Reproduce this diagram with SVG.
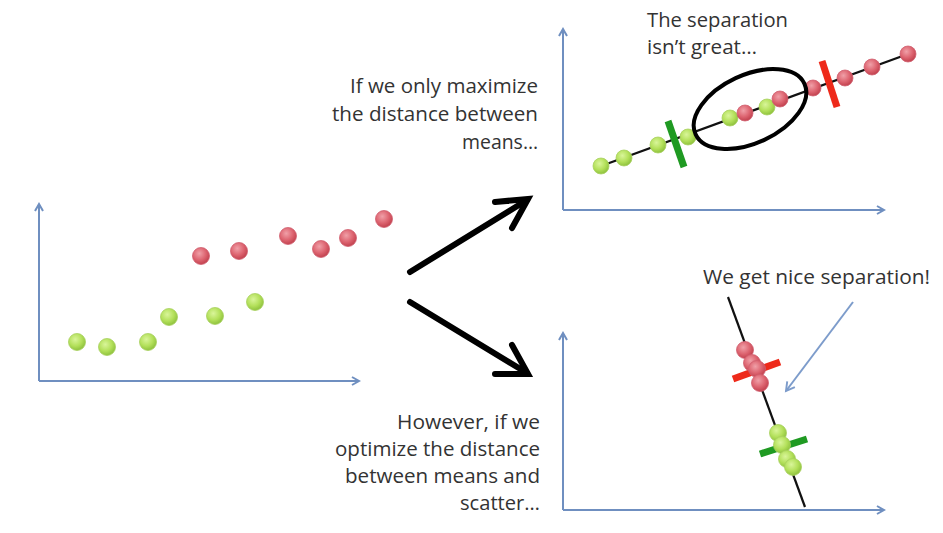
<svg xmlns="http://www.w3.org/2000/svg" width="943" height="533" viewBox="0 0 943 533">
<defs>
<radialGradient id="gG" cx="40%" cy="35%" r="65%">
<stop offset="0" stop-color="#d9f59a"/>
<stop offset="0.6" stop-color="#b3e05a"/>
<stop offset="1" stop-color="#8fc23e"/>
</radialGradient>
<radialGradient id="gR" cx="40%" cy="35%" r="65%">
<stop offset="0" stop-color="#f0a0a8"/>
<stop offset="0.6" stop-color="#dd6470"/>
<stop offset="1" stop-color="#c2424f"/>
</radialGradient>
<marker id="ax" viewBox="0 0 10 10" refX="8" refY="5" markerWidth="5" markerHeight="5" orient="auto" markerUnits="strokeWidth">
<path d="M1,1 L8,5 L1,9" fill="none" stroke="#6f8fc0" stroke-width="2"/>
</marker>
<marker id="bl" viewBox="0 0 10 10" refX="8" refY="5" markerWidth="6" markerHeight="6" orient="auto" markerUnits="strokeWidth">
<path d="M1,1 L8,5 L1,9" fill="none" stroke="#7d9ccb" stroke-width="1.6"/>
</marker>
</defs>
<style>
.axis{stroke:#6f8fc0;stroke-width:2;fill:none;marker-end:url(#ax)}
.g{fill:url(#gG);stroke:#a8d060;stroke-width:0.8}
.r{fill:url(#gR);stroke:#d06070;stroke-width:0.8}
.proj{stroke:#111;stroke-width:2.2;fill:none}
.txt{font-family:"Open Sans","Liberation Sans",sans-serif;font-size:20px;fill:#333333}
.big{stroke:#000;stroke-width:6;fill:none;stroke-linecap:round;stroke-linejoin:miter}
</style>
<rect width="943" height="533" fill="#ffffff"/>

<g id="plot-left">
<path class="axis" d="M39,381 L39,204"/>
<path class="axis" d="M39,381 L359,381"/>
<circle class="g" cx="77" cy="342" r="8.5"/>
<circle class="g" cx="107" cy="347" r="8.5"/>
<circle class="g" cx="148" cy="342" r="8.5"/>
<circle class="g" cx="169" cy="317" r="8.5"/>
<circle class="g" cx="215" cy="316" r="8.5"/>
<circle class="g" cx="255" cy="302" r="8.5"/>
<circle class="r" cx="201" cy="256" r="8.5"/>
<circle class="r" cx="239" cy="251" r="8.5"/>
<circle class="r" cx="288" cy="236" r="8.5"/>
<circle class="r" cx="321" cy="249" r="8.5"/>
<circle class="r" cx="348" cy="238" r="8.5"/>
<circle class="r" cx="384" cy="219" r="8.5"/>
</g>

<g id="plot-top">
<path class="axis" d="M563,210 L563,29"/>
<path class="axis" d="M563,210 L884,210"/>
<line class="proj" x1="601" y1="166" x2="908" y2="54"/>
<line x1="668" y1="121" x2="684" y2="167" stroke="#1f9a22" stroke-width="7"/>
<line x1="822" y1="61" x2="837" y2="107" stroke="#ee2a1a" stroke-width="7"/>
<circle class="g" cx="601" cy="166" r="8"/>
<circle class="g" cx="624" cy="158" r="8"/>
<circle class="g" cx="658" cy="145" r="8"/>
<circle class="g" cx="688" cy="137" r="8"/>
<circle class="g" cx="730" cy="118" r="8"/>
<circle class="r" cx="745" cy="113" r="8"/>
<circle class="g" cx="767" cy="107" r="8"/>
<circle class="r" cx="780" cy="99" r="8"/>
<circle class="r" cx="813" cy="88" r="8"/>
<circle class="r" cx="845" cy="78" r="8"/>
<circle class="r" cx="872" cy="67" r="8"/>
<circle class="r" cx="908" cy="54" r="8"/>
<ellipse cx="750" cy="109" rx="60" ry="34" transform="rotate(-25 750 109)" fill="none" stroke="#000" stroke-width="4"/>
</g>

<g id="plot-bottom">
<path class="axis" d="M563,510 L563,333"/>
<path class="axis" d="M563,510 L884,510"/>
<line class="proj" x1="728" y1="297" x2="805" y2="507"/>
<line x1="733" y1="379" x2="780" y2="362" stroke="#ee2a1a" stroke-width="7"/>
<line x1="760" y1="454" x2="807" y2="439" stroke="#1f9a22" stroke-width="7"/>
<circle class="r" cx="745" cy="350" r="8.5"/>
<circle class="r" cx="752" cy="363" r="8.5"/>
<circle class="r" cx="757" cy="369" r="8.5"/>
<circle class="r" cx="760" cy="383" r="8.5"/>
<circle class="g" cx="778" cy="433" r="8.5"/>
<circle class="g" cx="782" cy="445" r="8.5"/>
<circle class="g" cx="787" cy="459" r="8.5"/>
<circle class="g" cx="793" cy="467" r="8.5"/>
</g>

<g id="label-top-note">
<text class="txt" x="647" y="27" textLength="141" lengthAdjust="spacingAndGlyphs">The separation</text>
<text class="txt" x="647" y="54" textLength="110" lengthAdjust="spacingAndGlyphs">isn’t great…</text>
</g>

<g id="label-nice">
<text class="txt" x="703" y="284" textLength="227" lengthAdjust="spacingAndGlyphs">We get nice separation!</text>
</g>

<g id="label-means">
<text class="txt" x="538" y="93" text-anchor="end" textLength="188" lengthAdjust="spacingAndGlyphs">If we only maximize</text>
<text class="txt" x="538" y="121" text-anchor="end" textLength="206" lengthAdjust="spacingAndGlyphs">the distance between</text>
<text class="txt" x="538" y="149" text-anchor="end" textLength="76" lengthAdjust="spacingAndGlyphs">means…</text>
</g>

<g id="label-scatter">
<text class="txt" x="540" y="429" text-anchor="end" textLength="143" lengthAdjust="spacingAndGlyphs">However, if we</text>
<text class="txt" x="540" y="456" text-anchor="end" textLength="205" lengthAdjust="spacingAndGlyphs">optimize the distance</text>
<text class="txt" x="540" y="483" text-anchor="end" textLength="195" lengthAdjust="spacingAndGlyphs">between means and</text>
<text class="txt" x="540" y="510" text-anchor="end" textLength="80" lengthAdjust="spacingAndGlyphs">scatter…</text>
</g>

<g id="connectors">
<path class="big" d="M410,272 L527,200"/>
<path class="big" d="M495,202 L528,199 L512,228"/>
<path class="big" d="M410,302 L527,373"/>
<path class="big" d="M512,345 L528,374 L495,374"/>
<path d="M853,302 L786,391" stroke="#7d9ccb" stroke-width="2" fill="none" marker-end="url(#bl)"/>
</g>
</svg>
